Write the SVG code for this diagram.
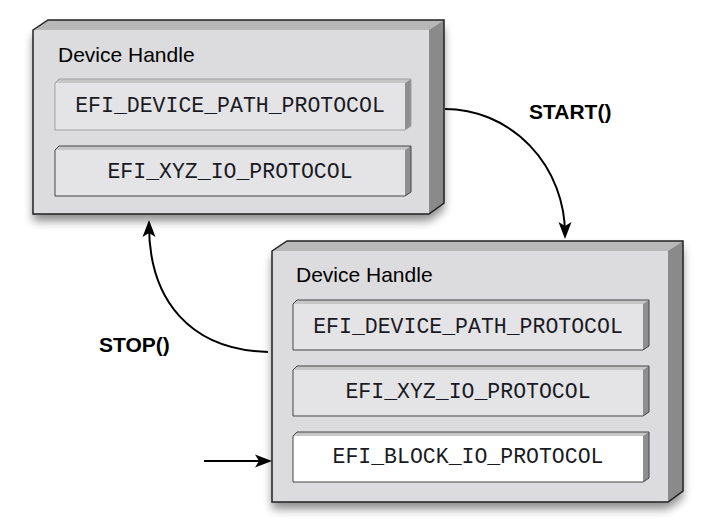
<svg xmlns="http://www.w3.org/2000/svg" width="704" height="524" viewBox="0 0 704 524">
  <style>
    .face{fill:#dcdcde}
    .top{fill:#b8b8b8}
    .side{fill:#8a8a8a}
    .outline{fill:none;stroke:#222;stroke-width:1.5;stroke-linejoin:miter}
    .iface{fill:#e4e4e6}
    .iface.white{fill:#ffffff}
    .itop{fill:#c6c6c6}
    .iside{fill:#8e8e8e}
    .ioutline{fill:none;stroke:#444;stroke-width:1}
    .ioutline.light{stroke:#a0a0a0}
    .title{font-family:"Liberation Sans",Arial,sans-serif;font-size:21px;fill:#000}
    .proto{font-family:"Liberation Mono","Courier New",monospace;font-size:21.5px;fill:#1a1a24;text-anchor:middle}
    .lbl{font-family:"Liberation Sans",Arial,sans-serif;font-size:21px;font-weight:bold;fill:#000}
    .conn{fill:none;stroke:#000;stroke-width:2}
  </style>
  <defs>
    <filter id="shadow" x="-10%" y="-10%" width="125%" height="130%">
      <feGaussianBlur in="SourceAlpha" stdDeviation="5"/>
      <feOffset dx="0" dy="7" result="b"/>
      <feComponentTransfer><feFuncA type="linear" slope="0.45"/></feComponentTransfer>
      <feMerge><feMergeNode/><feMergeNode in="SourceGraphic"/></feMerge>
    </filter>
    <marker id="arrow" markerUnits="userSpaceOnUse" markerWidth="18" markerHeight="14" refX="12" refY="7" orient="auto">
      <path d="M0,0.5 L17,7 L0,13.5 L4,7 z" fill="#000"/>
    </marker>
  </defs>

  <g id="handle1">
    <g filter="url(#shadow)">
      <rect class="face" x="33" y="30" width="396" height="184"/>
      <polygon class="top" points="33,30 48,20 444,20 429,30"/>
      <polygon class="side" points="429,30 444,20 444,203 429,214"/>
    </g>
    <polygon class="outline" points="33,30 48,20 444,20 444,203 429,214 33,214"/>
    <text class="title" x="58" y="62">Device Handle</text>
    <g id="h1-devpath">
      <rect class="iface" x="55" y="83" width="350" height="47"/>
      <polygon class="itop" points="55,83 59,79 411,79 405,83"/>
      <polygon class="iside" points="405,83 411,79 411,126 405,130"/>
      <polygon class="ioutline light" points="55,83 59,79 411,79 411,126 405,130 55,130"/>
      <text class="proto" x="230" y="112">EFI_DEVICE_PATH_PROTOCOL</text>
    </g>
    <g id="h1-xyz">
      <rect class="iface" x="55" y="150" width="350" height="46"/>
      <polygon class="itop" points="55,150 59,146 411,146 405,150"/>
      <polygon class="iside" points="405,150 411,146 411,192 405,196"/>
      <polygon class="ioutline" points="55,150 59,146 411,146 411,192 405,196 55,196"/>
      <text class="proto" x="230" y="178">EFI_XYZ_IO_PROTOCOL</text>
    </g>
  </g>

  <g id="handle2">
    <g filter="url(#shadow)">
      <rect class="face" x="272" y="251" width="396" height="251"/>
      <polygon class="top" points="272,251 287,241 683,241 668,251"/>
      <polygon class="side" points="668,251 683,241 683,491 668,502"/>
    </g>
    <polygon class="outline" points="272,251 287,241 683,241 683,491 668,502 272,502"/>
    <text class="title" x="296" y="282">Device Handle</text>
    <g id="h2-devpath">
      <rect class="iface" x="293" y="304" width="350" height="46"/>
      <polygon class="itop" points="293,304 297,300 649,300 643,304"/>
      <polygon class="iside" points="643,304 649,300 649,346 643,350"/>
      <polygon class="ioutline" points="293,304 297,300 649,300 649,346 643,350 293,350"/>
      <text class="proto" x="468" y="333">EFI_DEVICE_PATH_PROTOCOL</text>
    </g>
    <g id="h2-xyz">
      <rect class="iface" x="293" y="370" width="350" height="46"/>
      <polygon class="itop" points="293,370 297,366 649,366 643,370"/>
      <polygon class="iside" points="643,370 649,366 649,412 643,416"/>
      <polygon class="ioutline" points="293,370 297,366 649,366 649,412 643,416 293,416"/>
      <text class="proto" x="468" y="398">EFI_XYZ_IO_PROTOCOL</text>
    </g>
    <g id="h2-blockio">
      <rect class="iface white" x="293" y="436" width="350" height="46"/>
      <polygon class="itop" points="293,436 297,432 649,432 643,436"/>
      <polygon class="iside" points="643,436 649,432 649,478 643,482"/>
      <polygon class="ioutline" points="293,436 297,432 649,432 649,478 643,482 293,482"/>
      <text class="proto" x="468" y="463">EFI_BLOCK_IO_PROTOCOL</text>
    </g>
  </g>

  <g id="connectors">
    <path class="conn" d="M445,109 A120,125 0 0 1 565,234" marker-end="url(#arrow)"/>
    <path class="conn" d="M268,352 C190,350 149,300 149,225" marker-end="url(#arrow)"/>
    <path class="conn" d="M204,461 L267,461" marker-end="url(#arrow)"/>
    <text class="lbl" x="529" y="119">START()</text>
    <text class="lbl" x="99" y="352">STOP()</text>
  </g>
</svg>
